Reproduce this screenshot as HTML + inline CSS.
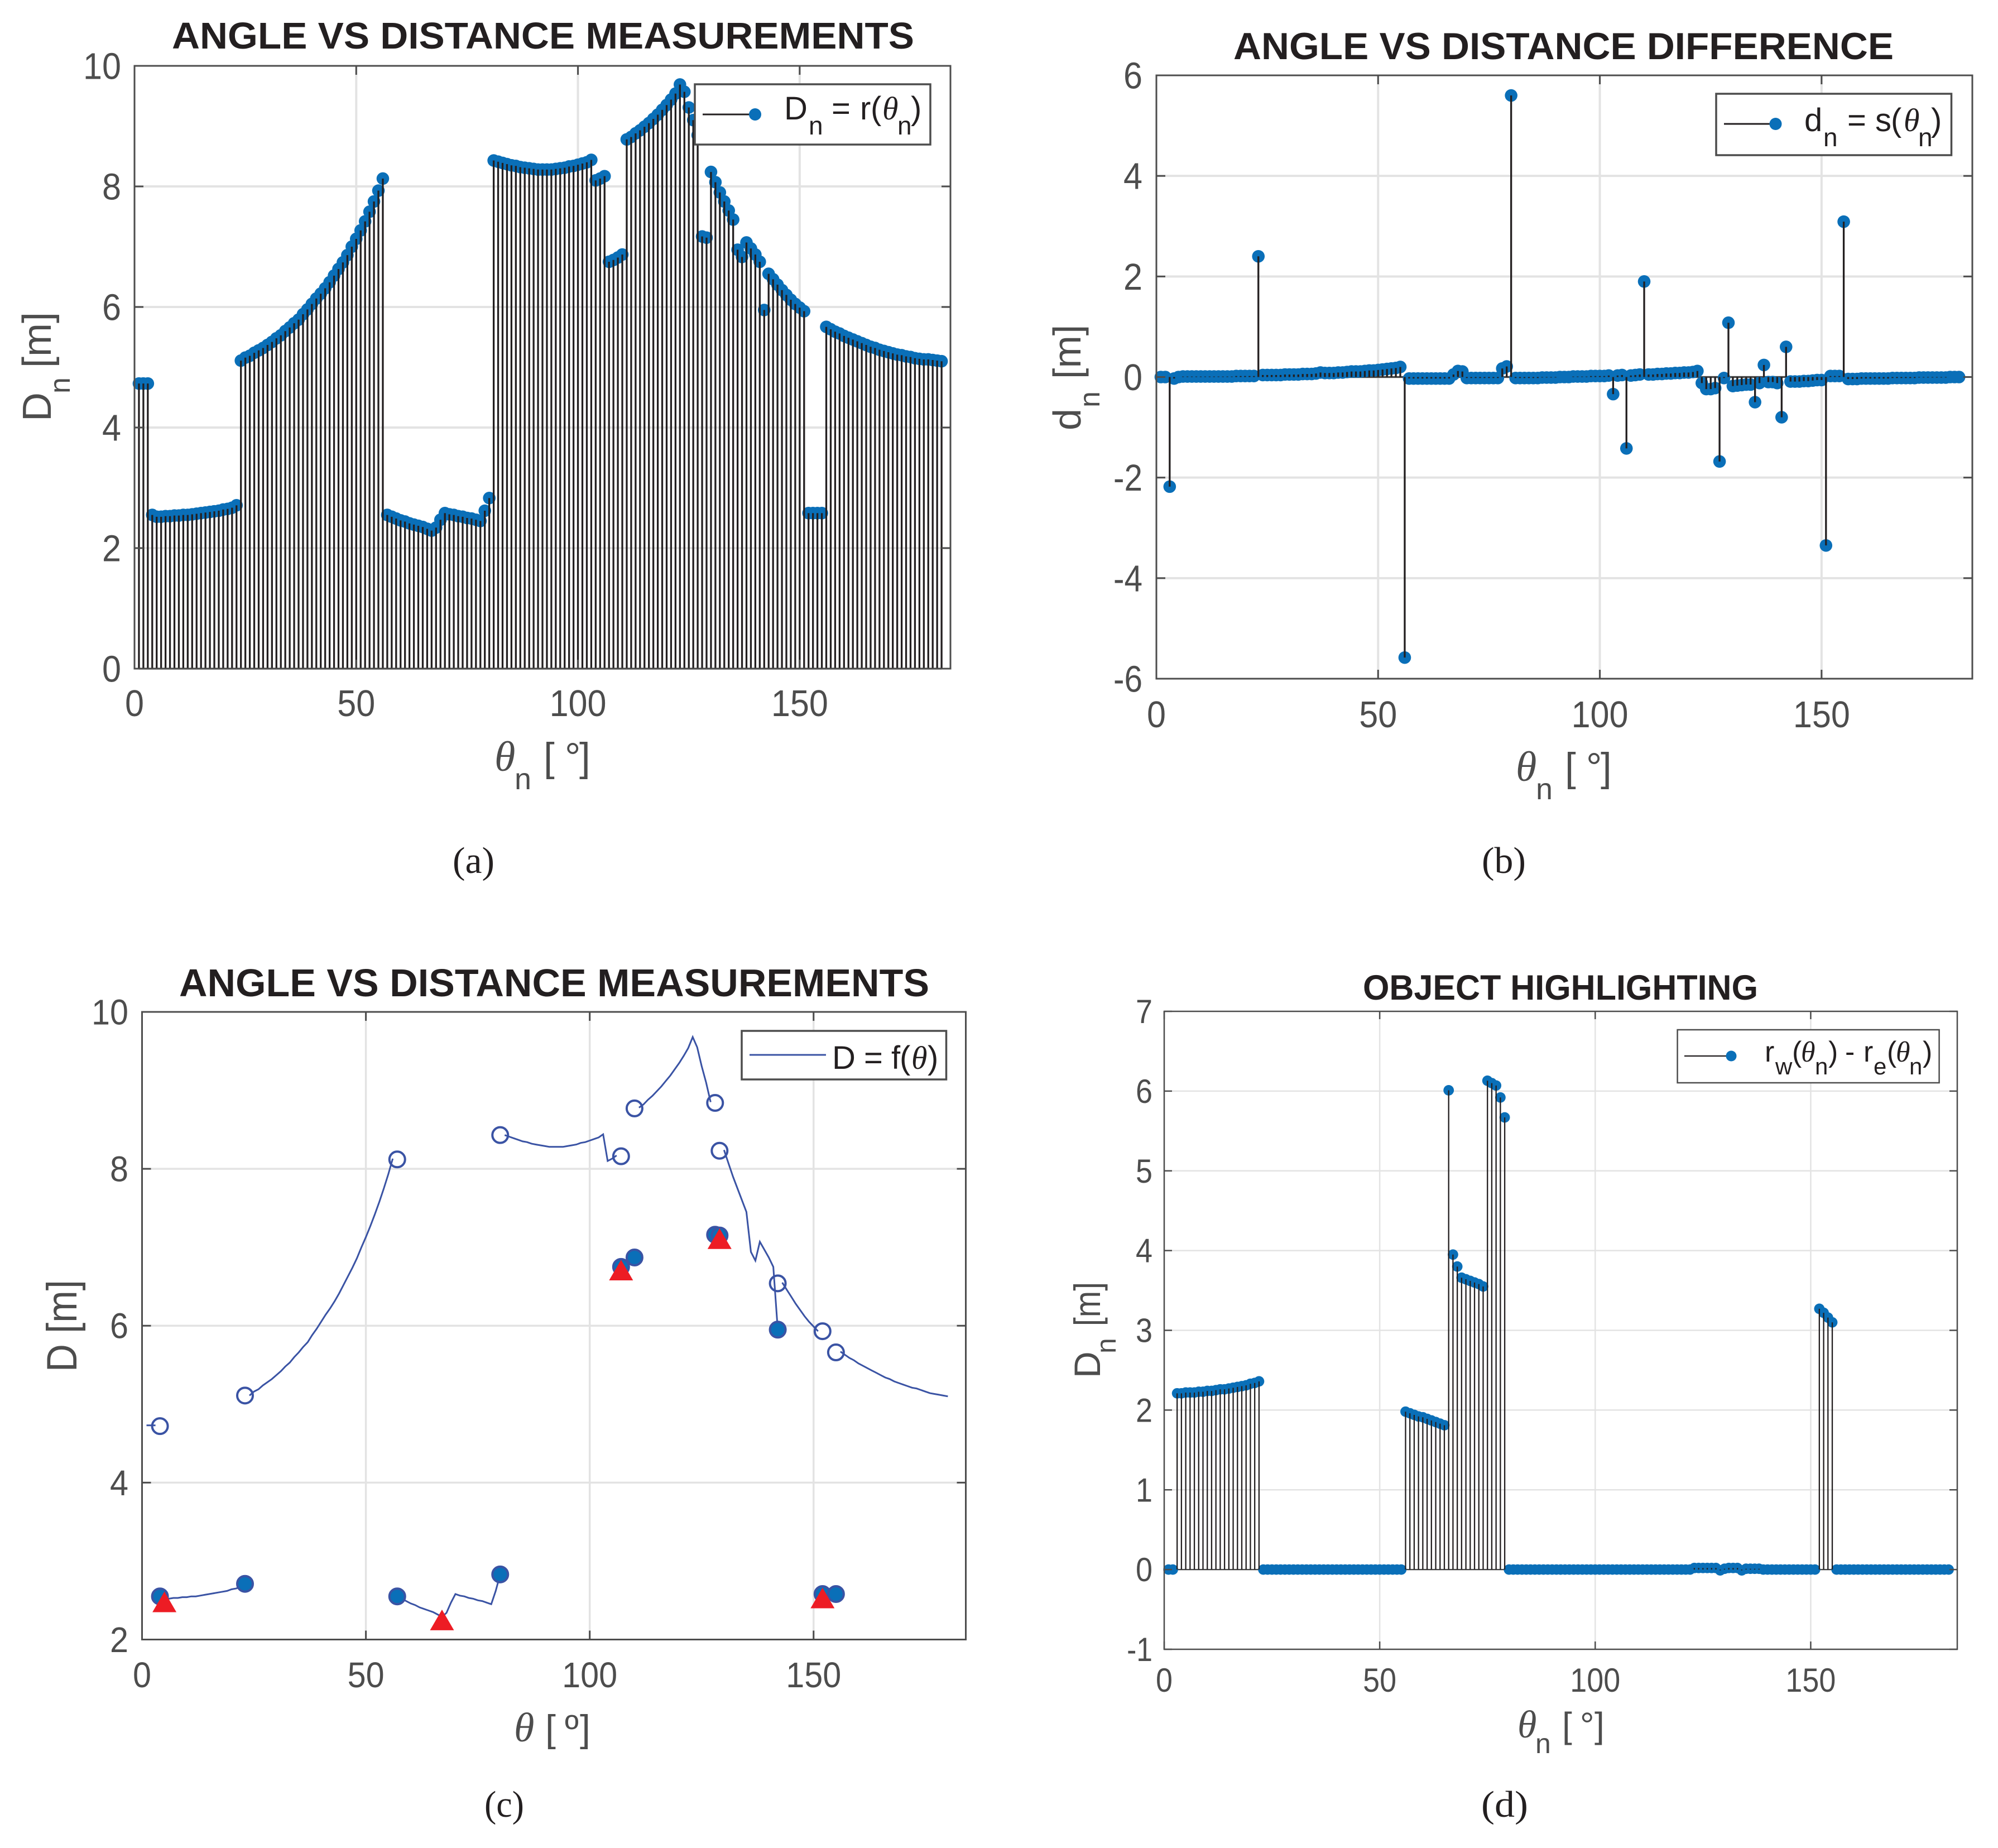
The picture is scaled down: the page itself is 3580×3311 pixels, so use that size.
<!DOCTYPE html>
<html lang="en">
<head>
<meta charset="utf-8">
<title>Angle vs distance charts</title>
<style>
html,body{margin:0;padding:0;background:#fff;}
svg{display:block;}
text{font-family:"Liberation Sans",sans-serif;}
.serif{font-family:"Liberation Serif",serif;}
.th{font-family:"Liberation Serif",serif;font-style:italic;}
</style>
</head>
<body>
<svg id="fig" xmlns="http://www.w3.org/2000/svg" width="3580" height="3311" viewBox="0 0 3580 3311">
<rect x="0" y="0" width="3580" height="3311" fill="#fff"/>
<g id="panel-a"></g>
<g id="panel-b"></g>
<g id="panel-c"></g>
<g id="panel-d"></g>

<g fill="#231f20" font-weight="700">
<text x="308" y="87" font-size="67" textLength="1330" lengthAdjust="spacingAndGlyphs">ANGLE VS DISTANCE MEASUREMENTS</text>
<text x="2210" y="106" font-size="68" textLength="1183" lengthAdjust="spacingAndGlyphs">ANGLE VS DISTANCE DIFFERENCE</text>
<text x="321" y="1785" font-size="70" textLength="1344" lengthAdjust="spacingAndGlyphs">ANGLE VS DISTANCE MEASUREMENTS</text>
<text x="2442" y="1791" font-size="63" textLength="708" lengthAdjust="spacingAndGlyphs">OBJECT HIGHLIGHTING</text>
</g>

<g fill="#4d4d4d">
<text font-size="72" transform="translate(91,755) rotate(-90)"><tspan x="0" y="0">D</tspan><tspan x="50" y="34" font-size="52">n</tspan><tspan x="96" y="0">[m]</tspan></text>
<text font-size="70" transform="translate(1936,771) rotate(-90)"><tspan x="0" y="0">d</tspan><tspan x="41" y="34" font-size="52">n</tspan><tspan x="92" y="0">[m]</tspan></text>
<text font-size="76" transform="translate(137,2458) rotate(-90)" textLength="165" lengthAdjust="spacingAndGlyphs">D [m]</text>
<text font-size="66" transform="translate(1971,2469) rotate(-90)"><tspan x="0" y="0">D</tspan><tspan x="44" y="28" font-size="50">n</tspan><tspan x="93" y="0" textLength="79" lengthAdjust="spacingAndGlyphs">[m]</tspan></text>

<text font-size="71"><tspan class="th" x="886" y="1381" font-size="76">θ</tspan><tspan x="922" y="1414" font-size="54">n</tspan><tspan x="974" y="1381">[</tspan><tspan x="1012" y="1381">°</tspan><tspan x="1038" y="1381">]</tspan></text>
<text font-size="71"><tspan class="th" x="2716" y="1399" font-size="76">θ</tspan><tspan x="2752" y="1432" font-size="54">n</tspan><tspan x="2804" y="1399">[</tspan><tspan x="2842" y="1399">°</tspan><tspan x="2868" y="1399">]</tspan></text>
<text font-size="68"><tspan class="th" x="921" y="3120" font-size="74">θ</tspan><tspan x="977" y="3120">[</tspan><tspan x="1012" y="3120">º</tspan><tspan x="1039" y="3120">]</tspan></text>
<text font-size="64"><tspan class="th" x="2719" y="3113" font-size="70">θ</tspan><tspan x="2751" y="3141" font-size="50">n</tspan><tspan x="2799" y="3113">[</tspan><tspan x="2831" y="3113">°</tspan><tspan x="2857" y="3113">]</tspan></text>
</g>

<g fill="#231f20" font-size="67">
<text class="serif" x="811" y="1564" textLength="75" lengthAdjust="spacingAndGlyphs">(a)</text>
<text class="serif" x="2655" y="1564" textLength="79" lengthAdjust="spacingAndGlyphs">(b)</text>
<text class="serif" x="868" y="3255" textLength="71" lengthAdjust="spacingAndGlyphs">(c)</text>
<text class="serif" x="2654" y="3255" textLength="84" lengthAdjust="spacingAndGlyphs">(d)</text>
</g>

<g>
<rect x="1245" y="151" width="422" height="108" fill="#fff" stroke="#4d4d4d" stroke-width="3.5"/>
<line x1="1259" y1="205" x2="1350" y2="205" stroke="#231f20" stroke-width="3"/>
<circle cx="1353" cy="205" r="11" fill="#0a6fb8"/>
<text font-size="58" fill="#231f20"><tspan x="1405" y="214">D</tspan><tspan x="1449" y="241" font-size="46">n</tspan><tspan x="1490" y="214">=</tspan><tspan x="1541" y="214">r</tspan><tspan x="1560" y="214">(</tspan><tspan class="th" x="1581" y="214">θ</tspan><tspan x="1608" y="241" font-size="46">n</tspan><tspan x="1632" y="214">)</tspan></text>
</g>
<g>
<rect x="3075" y="168" width="421.5" height="110" fill="#fff" stroke="#4d4d4d" stroke-width="3.5"/>
<line x1="3089" y1="222" x2="3178" y2="222" stroke="#231f20" stroke-width="3"/>
<circle cx="3181.5" cy="222" r="11" fill="#0a6fb8"/>
<text font-size="58" fill="#231f20"><tspan x="3233" y="235">d</tspan><tspan x="3267" y="262" font-size="46">n</tspan><tspan x="3310" y="235">=</tspan><tspan x="3360" y="235">s</tspan><tspan x="3388" y="235">(</tspan><tspan class="th" x="3411" y="235">θ</tspan><tspan x="3437" y="262" font-size="46">n</tspan><tspan x="3460" y="235">)</tspan></text>
</g>
<g>
<rect x="1329" y="1847" width="366.5" height="87" fill="#fff" stroke="#4d4d4d" stroke-width="3.5"/>
<line x1="1343" y1="1890" x2="1480" y2="1890" stroke="#3a53a4" stroke-width="3"/>
<text font-size="58" fill="#231f20"><tspan x="1491" y="1915">D</tspan><tspan x="1548" y="1915">=</tspan><tspan x="1597" y="1915">f</tspan><tspan x="1612" y="1915">(</tspan><tspan class="th" x="1633" y="1915">θ</tspan><tspan x="1662" y="1915">)</tspan></text>
</g>
<g>
<rect x="3005.6" y="1845" width="469" height="95" fill="#fff" stroke="#4d4d4d" stroke-width="2.5"/>
<line x1="3018" y1="1892" x2="3098" y2="1892" stroke="#231f20" stroke-width="2.2"/>
<circle cx="3102" cy="1892" r="9.5" fill="#0a6fb8"/>
<text font-size="52" fill="#231f20"><tspan x="3162" y="1902">r</tspan><tspan x="3181" y="1925" font-size="42">w</tspan><tspan x="3211" y="1902">(</tspan><tspan class="th" x="3227" y="1902">θ</tspan><tspan x="3252" y="1925" font-size="42">n</tspan><tspan x="3276" y="1902">)</tspan><tspan x="3306" y="1902">-</tspan><tspan x="3339" y="1902">r</tspan><tspan x="3357" y="1925" font-size="42">e</tspan><tspan x="3381" y="1902">(</tspan><tspan class="th" x="3397" y="1902">θ</tspan><tspan x="3421" y="1925" font-size="42">n</tspan><tspan x="3445" y="1902">)</tspan></text>
</g>
</svg>

<script>
// ---- shared tick labels ----
const xTickValues = [0, 50, 100, 150];
const yTicksA = [0, 2, 4, 6, 8, 10];
const yTicksB = [-6, -4, -2, 0, 2, 4, 6];
const yTicksC = [2, 4, 6, 8, 10];
const yTicksD = [-1, 0, 1, 2, 3, 4, 5, 6, 7];

// ---- panel (a): D_n = r(theta_n), theta_n = 1..182 ----
const rangeValues = [
4.73,4.73,4.73,2.55,2.52,2.52,2.53,2.53,2.54,2.54,
2.55,2.55,2.56,2.57,2.58,2.59,2.60,2.61,2.62,2.64,
2.65,2.67,2.71,5.11,5.16,5.19,5.24,5.28,5.32,5.37,
5.42,5.48,5.53,5.60,5.66,5.73,5.79,5.88,5.96,6.05,
6.14,6.22,6.31,6.41,6.52,6.63,6.74,6.86,7.00,7.13,
7.27,7.42,7.58,7.75,7.93,8.13,2.55,2.52,2.49,2.46,
2.44,2.41,2.39,2.37,2.35,2.32,2.29,2.34,2.47,2.58,
2.56,2.55,2.53,2.52,2.50,2.49,2.47,2.45,2.62,2.83,
8.43,8.41,8.39,8.37,8.35,8.34,8.32,8.31,8.30,8.29,
8.28,8.28,8.28,8.28,8.29,8.30,8.31,8.33,8.34,8.36,
8.38,8.40,8.44,8.10,8.13,8.17,6.75,6.78,6.82,6.87,
8.78,8.82,8.88,8.93,8.99,9.05,9.12,9.19,9.27,9.35,
9.44,9.54,9.69,9.57,9.31,9.10,8.85,7.17,7.15,8.24,
8.07,7.90,7.75,7.60,7.45,6.95,6.83,7.07,6.97,6.87,
6.75,5.95,6.55,6.46,6.37,6.28,6.20,6.12,6.05,5.99,
5.93,2.58,2.58,2.58,2.58,5.67,5.63,5.59,5.56,5.52,
5.49,5.46,5.43,5.40,5.37,5.34,5.32,5.29,5.27,5.25,
5.23,5.21,5.20,5.18,5.17,5.15,5.14,5.13,5.13,5.12,
5.11,5.10];

// ---- panel (b): d_n = s(theta_n), theta_n = 1..181 ----
const differenceValues = [
0.00,0.00,-2.18,-0.03,0.00,0.01,0.01,0.01,0.01,0.01,
0.01,0.01,0.01,0.01,0.01,0.01,0.01,0.02,0.02,0.02,
0.02,0.02,2.40,0.04,0.04,0.04,0.04,0.04,0.05,0.05,
0.05,0.05,0.06,0.06,0.06,0.07,0.09,0.08,0.08,0.08,
0.09,0.09,0.10,0.11,0.11,0.11,0.12,0.13,0.13,0.14,
0.15,0.16,0.17,0.18,0.20,-5.58,-0.03,-0.03,-0.03,-0.03,
-0.03,-0.03,-0.03,-0.03,-0.03,-0.03,0.05,0.12,0.11,-0.02,
-0.02,-0.02,-0.02,-0.02,-0.02,-0.02,-0.02,0.17,0.21,5.60,
-0.02,-0.02,-0.02,-0.02,-0.02,-0.02,-0.01,-0.01,-0.01,-0.01,
0.00,0.00,0.00,0.01,0.01,0.01,0.01,0.02,0.02,0.02,
0.02,0.03,-0.34,0.03,0.04,-1.42,0.03,0.04,0.05,1.90,
0.05,0.05,0.06,0.06,0.07,0.07,0.08,0.08,0.09,0.09,
0.10,0.12,-0.12,-0.24,-0.24,-0.22,-1.68,-0.02,1.08,-0.18,
-0.17,-0.16,-0.15,-0.15,-0.50,-0.12,0.24,-0.10,-0.10,-0.12,
-0.80,0.60,-0.09,-0.09,-0.09,-0.08,-0.08,-0.07,-0.06,-0.06,
-3.35,0.02,0.02,0.02,3.09,-0.04,-0.04,-0.04,-0.03,-0.03,
-0.03,-0.03,-0.03,-0.03,-0.03,-0.02,-0.02,-0.02,-0.02,-0.02,
-0.02,-0.01,-0.01,-0.01,-0.01,-0.01,-0.01,-0.01,0.00,0.00,
0.00];

// ---- panel (c): D = f(theta), theta = 1..180, pen lifts after the listed angles ----
const curveValues = [
4.73,4.73,4.73,2.55,2.52,2.52,2.53,2.53,2.54,2.54,
2.55,2.55,2.56,2.57,2.58,2.59,2.60,2.61,2.62,2.64,
2.65,2.67,2.71,5.11,5.16,5.19,5.24,5.28,5.32,5.37,
5.42,5.48,5.53,5.60,5.66,5.73,5.79,5.88,5.96,6.05,
6.14,6.22,6.31,6.41,6.52,6.63,6.74,6.86,7.00,7.13,
7.27,7.42,7.58,7.75,7.93,8.13,2.55,2.52,2.49,2.46,
2.44,2.41,2.39,2.37,2.35,2.32,2.29,2.34,2.47,2.58,
2.56,2.55,2.53,2.52,2.50,2.49,2.47,2.45,2.62,2.83,
8.43,8.41,8.39,8.37,8.35,8.34,8.32,8.31,8.30,8.29,
8.28,8.28,8.28,8.28,8.29,8.30,8.31,8.33,8.34,8.36,
8.38,8.40,8.44,8.10,8.13,8.17,6.75,6.78,6.82,6.87,
8.78,8.82,8.88,8.93,8.99,9.05,9.12,9.19,9.27,9.35,
9.44,9.54,9.68,9.55,9.31,9.10,8.85,7.17,7.15,8.24,
8.07,7.90,7.75,7.60,7.45,6.94,6.83,7.07,6.97,6.87,
6.75,5.95,6.55,6.46,6.37,6.28,6.20,6.12,6.05,5.99,
5.93,2.58,2.58,2.58,2.58,5.67,5.63,5.59,5.56,5.52,
5.49,5.46,5.43,5.40,5.37,5.34,5.32,5.29,5.27,5.25,
5.23,5.21,5.20,5.18,5.16,5.14,5.13,5.12,5.11,5.10];
const curveBreaks = [3, 23, 56, 80, 106, 110, 127, 129, 142, 151, 155];
const openTheta = [4, 23, 57, 80, 107, 110, 128, 129, 142, 152, 155];
const openDist = [4.72, 5.11, 8.12, 8.43, 8.16, 8.77, 8.84, 8.23, 6.54, 5.93, 5.66];
const filledTheta = [4, 23, 57, 80, 107, 110, 128, 129, 142, 152, 155];
const filledDist = [2.55, 2.71, 2.55, 2.83, 6.75, 6.87, 7.16, 7.15, 5.95, 2.58, 2.58];
const peakTheta = [5, 67, 107, 129, 152];
const peakDist = [2.48, 2.25, 6.71, 7.11, 2.53];

// ---- panel (d): r_w(theta_n) - r_e(theta_n), theta_n = 1..182 ----
const highlightValues = [
0,0,2.21,2.21,2.22,2.22,2.22,2.23,2.23,2.24,
2.24,2.25,2.26,2.26,2.27,2.28,2.29,2.30,2.31,2.33,
2.34,2.36,0,0,0,0,0,0,0,0,
0,0,0,0,0,0,0,0,0,0,
0,0,0,0,0,0,0,0,0,0,
0,0,0,0,0,1.98,1.96,1.94,1.92,1.91,
1.89,1.87,1.85,1.83,1.81,6.01,3.95,3.80,3.66,3.64,
3.62,3.60,3.58,3.55,6.13,6.10,6.07,5.92,5.67,0,
0,0,0,0,0,0,0,0,0,0,
0,0,0,0,0,0,0,0,0,0,
0,0,0,0,0,0,0,0,0,0,
0,0,0,0,0,0,0,0,0,0,
0,0,0.02,0.02,0.02,0.02,0.02,0.02,-0.01,0.01,
0.02,0.02,0.02,-0.01,0.01,0.01,0.01,0.01,0,0,
0,0,0,0,0,0,0,0,0,0,
0,3.27,3.22,3.16,3.10,0,0,0,0,0,
0,0,0,0,0,0,0,0,0,0,
0,0,0,0,0,0,0,0,0,0,
0,0];

const NS = 'http://www.w3.org/2000/svg';
function mk(tag, parent, attrs) {
  const el = document.createElementNS(NS, tag);
  for (const k in attrs) el.setAttribute(k, attrs[k]);
  parent.appendChild(el);
  return el;
}
function scale(d0, d1, r0, r1) {
  return function (v) { return r0 + (v - d0) * (r1 - r0) / (d1 - d0); };
}

function drawFrame(root, p, yTicks) {
  const x = p.x, y = p.y;
  for (const t of xTickValues) {
    if (t === 0) continue;
    const g = mk('line', root, {x1: x(t), x2: x(t), y1: p.top, y2: p.bottom, stroke: '#e3e3e3', 'stroke-width': p.grid});
    
    
  }
  for (const t of yTicks) {
    if (y(t) <= p.top + 1 || y(t) >= p.bottom - 1) continue;
    const g = mk('line', root, {x1: p.left, x2: p.right, y1: y(t), y2: y(t), stroke: '#e3e3e3', 'stroke-width': p.grid});
    
    
  }
}
function drawAxes(root, p, yTicks) {
  const x = p.x, y = p.y;
  const frame = mk('rect', root, {x: p.left, y: p.top, width: p.right - p.left, height: p.bottom - p.top, fill: 'none', stroke: '#4d4d4d', 'stroke-width': p.axis});
  
  
  for (const t of xTickValues) {
    for (const ends of [[p.bottom, p.bottom - p.tick], [p.top, p.top + p.tick]]) {
      const m = mk('line', root, {x1: x(t), x2: x(t), y1: ends[0], y2: ends[1], stroke: '#4d4d4d', 'stroke-width': p.axis});
      
      
    }
    const s = String(t);
    const lab = mk('text', root, {x: x(t), y: p.xLabelY, 'font-size': p.fs, fill: '#4d4d4d', 'text-anchor': 'middle', textLength: s.length * p.dw, lengthAdjust: 'spacingAndGlyphs'});
    lab.textContent = s;
    
    
  }
  for (const t of yTicks) {
    for (const ends of [[p.left, p.left + p.tick], [p.right, p.right - p.tick]]) {
      const m = mk('line', root, {x1: ends[0], x2: ends[1], y1: y(t), y2: y(t), stroke: '#4d4d4d', 'stroke-width': p.axis});
      
      
    }
    const s = String(t);
    const w = t < 0 ? (s.length - 1) * p.dw + p.dw * 0.53 : s.length * p.dw;
    const lab = mk('text', root, {x: p.yLabelX - w, y: y(t) + p.fs * 0.35, 'font-size': p.fs, fill: '#4d4d4d', textLength: w, lengthAdjust: 'spacingAndGlyphs'});
    lab.textContent = s;
    
    
  }
}
function drawStems(root, p, values) {
  const x = p.x, y = p.y;
  const base = mk('line', root, {x1: x(1), x2: x(values.length), y1: y(0), y2: y(0), stroke: '#454545', 'stroke-width': p.stem});
  
  
  values.forEach(function (v, i) {
    const c = mk('circle', root, {cx: x(i + 1), cy: y(v), r: p.marker, fill: '#0a6fb8'});
    
    
  });
  values.forEach(function (v, i) {
    const s = mk('line', root, {x1: x(i + 1), x2: x(i + 1), y1: y(0), y2: y(v), stroke: '#231f20', 'stroke-width': p.stem});
    
    
  });
}

function panel(left, right, top, bottom, ymin, ymax, extra) {
  const p = Object.assign({left: left, right: right, top: top, bottom: bottom}, extra);
  p.x = scale(0, 184, left, right);
  p.y = scale(ymin, ymax, bottom, top);
  return p;
}

// panel a
const pa = panel(241, 1703, 118, 1198, 0, 10, {grid: 4, axis: 3, tick: 16, stem: 3.3, marker: 11.3, fs: 67, dw: 34, xLabelY: 1283, yLabelX: 217});
const rootA = document.getElementById('panel-a');
drawFrame(rootA, pa, yTicksA);
drawStems(rootA, pa, rangeValues);
drawAxes(rootA, pa, yTicksA);

// panel b
const pb = panel(2072, 3534, 135, 1216, -6, 6, {grid: 4, axis: 3, tick: 16, stem: 3.3, marker: 11.3, fs: 67, dw: 34, xLabelY: 1303, yLabelX: 2047});
const rootB = document.getElementById('panel-b');
drawFrame(rootB, pb, yTicksB);
drawStems(rootB, pb, differenceValues);
drawAxes(rootB, pb, yTicksB);

// panel c
const pc = panel(254.5, 1730.5, 1813, 2937.5, 2, 10, {grid: 3.5, axis: 3, tick: 16, fs: 64, dw: 33, xLabelY: 3023, yLabelX: 230});
const rootC = document.getElementById('panel-c');
drawFrame(rootC, pc, yTicksC);
openTheta.forEach(function (t, i) {
  const c = mk('circle', rootC, {cx: pc.x(t), cy: pc.y(openDist[i]), r: 14, fill: '#fff', stroke: '#3a53a4', 'stroke-width': 4});
  
  
});
let curveD = '';
curveValues.forEach(function (v, i) {
  const t = i + 1;
  const lift = i === 0 || curveBreaks.indexOf(t - 1) >= 0;
  curveD += (lift ? 'M' : 'L') + pc.x(t).toFixed(1) + ' ' + pc.y(v).toFixed(1);
});
const curve = mk('path', rootC, {d: curveD, fill: 'none', stroke: '#3a53a4', 'stroke-width': 3, 'stroke-linejoin': 'miter'});


filledTheta.forEach(function (t, i) {
  const c = mk('circle', rootC, {cx: pc.x(t), cy: pc.y(filledDist[i]), r: 14, fill: '#0a6fb8', stroke: '#3a53a4', 'stroke-width': 4});
  
  
});
peakTheta.forEach(function (t, i) {
  const cx = pc.x(t), cy = pc.y(peakDist[i]);
  const tri = mk('polygon', rootC, {points: (cx - 21.5) + ',' + (cy + 18.5) + ' ' + (cx + 21.5) + ',' + (cy + 18.5) + ' ' + cx + ',' + (cy - 18.5), fill: '#ed1c24'});
  
  
});
drawAxes(rootC, pc, yTicksC);

// panel d
const pd = panel(2086, 3507, 1812, 2955, -1, 7, {grid: 2.5, axis: 2.5, tick: 14, stem: 2.3, marker: 9.4, fs: 60, dw: 30, xLabelY: 3031, yLabelX: 2065});
const rootD = document.getElementById('panel-d');
drawFrame(rootD, pd, yTicksD);
drawStems(rootD, pd, highlightValues);
drawAxes(rootD, pd, yTicksD);
</script>
</body>
</html>
